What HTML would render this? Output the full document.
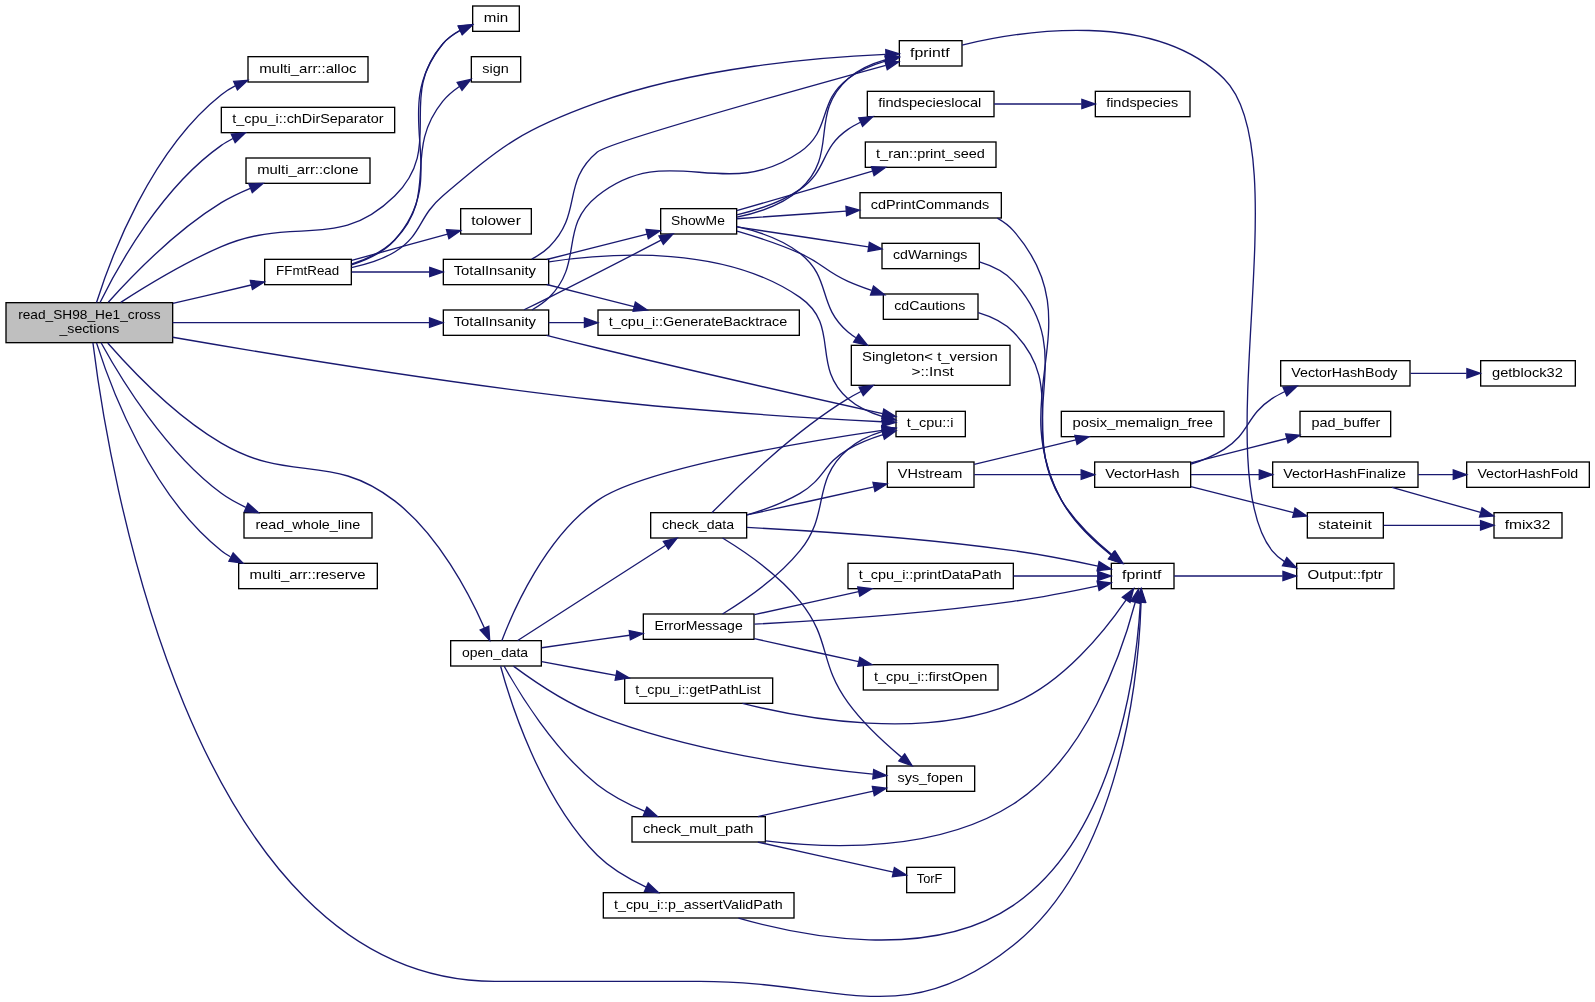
<!DOCTYPE html>
<html><head><meta charset="utf-8"><title>read_SH98_He1_cross_sections call graph</title>
<style>html,body{margin:0;padding:0;background:#fff;overflow:hidden}svg{display:block;will-change:transform}
rect{stroke-width:1}
path{fill:none;stroke:#191970;stroke-width:1}
polygon{fill:#191970;stroke:#191970;stroke-width:1}
text{font-family:"Liberation Sans",sans-serif;font-size:10.0px;fill:#000;text-anchor:middle;text-rendering:auto;}
</style></head><body>
<svg width="1595" height="1002" viewBox="0 0 1196.25 751.5">
<rect x="0" y="0" width="1196.25" height="751.5" fill="#fff"/>
<g transform="translate(4 747.53)">
<rect x="0.5" y="-520.53" width="125" height="30" fill="#bfbfbf" stroke="#000"/>
<text x="63" y="-508.53" textLength="106.78" lengthAdjust="spacingAndGlyphs">read_SH98_He1_cross</text>
<text x="63" y="-497.53" textLength="44.85" lengthAdjust="spacingAndGlyphs">_sections</text>
<rect x="182" y="-705.03" width="90" height="19" fill="#ffffff" stroke="#000"/>
<text x="226.86" y="-693.03" textLength="73" lengthAdjust="spacingAndGlyphs">multi_arr::alloc</text>
<path d="M68.39,-520.67C79.13,-554.58 109.01,-634.59 162,-676.53 165.18,-679.05 168.69,-681.23 172.37,-683.12"/>
<polygon points="171.25,-686.45 181.82,-687.26 174.06,-680.04"/>
<rect x="162" y="-667.03" width="130" height="19" fill="#ffffff" stroke="#000"/>
<text x="226.89" y="-655.03" textLength="113.48" lengthAdjust="spacingAndGlyphs">t_cpu_i::chDirSeparator</text>
<path d="M71.02,-520.69C84.87,-548.73 117.64,-607.38 162,-638.53 164.4,-640.21 168.04,-642.25 170.69,-643.66"/>
<polygon points="169.45,-646.94 180,-647.93 172.37,-640.57"/>
<rect x="180.5" y="-629.03" width="93" height="19" fill="#ffffff" stroke="#000"/>
<text x="226.91" y="-617.03" textLength="76.02" lengthAdjust="spacingAndGlyphs">multi_arr::clone</text>
<path d="M77.21,-520.87C95.02,-540.64 128.34,-574.85 162,-595.53 168.33,-599.41 176.66,-603.33 183.71,-606.28"/>
<polygon points="182.67,-609.63 193.26,-610.01 185.22,-603.11"/>
<rect x="350.5" y="-743.03" width="35" height="19" fill="#ffffff" stroke="#000"/>
<text x="368" y="-731.03" textLength="18.29" lengthAdjust="spacingAndGlyphs">min</text>
<path d="M86.56,-520.78C105.88,-533.24 135.6,-551.19 162,-562.53 217.31,-586.28 248.98,-558.42 292,-600.53 329.97,-637.69 293.3,-674.29 328,-714.53 331.48,-718.56 336.51,-722.04 341.24,-724.64"/>
<polygon points="339.84,-727.85 350.39,-728.86 342.77,-721.49"/>
<rect x="194.5" y="-553.03" width="65" height="19" fill="#ffffff" stroke="#000"/>
<text x="226.74" y="-541.03" textLength="47.31" lengthAdjust="spacingAndGlyphs">FFmtRead</text>
<path d="M125.67,-519.99C144.62,-524.44 167.02,-529.69 184.41,-533.77"/>
<polygon points="183.73,-537.21 194.26,-536.08 185.33,-530.39"/>
<rect x="829.5" y="-325.03" width="47" height="19" fill="#ffffff" stroke="#000"/>
<text x="852.31" y="-313.03" textLength="29.55" lengthAdjust="spacingAndGlyphs">fprintf</text>
<path d="M65.69,-490.37C76.22,-405.23 137.35,-11.53 367,-11.53 367,-11.53 367,-11.53 521,-11.53 626.13,-11.53 673.97,27.23 756,-38.53 837.59,-103.94 850.06,-243.28 851.8,-295.55"/>
<polygon points="848.31,-295.94 852.04,-305.86 855.31,-295.78"/>
<rect x="668" y="-439.03" width="52" height="19" fill="#ffffff" stroke="#000"/>
<text x="693.62" y="-427.03" textLength="34.93" lengthAdjust="spacingAndGlyphs">t_cpu::i</text>
<path d="M125.5,-494.61C200.56,-481.64 331.42,-460.17 444,-447.53 519.88,-439.01 609.25,-433.69 657.6,-431.2"/>
<polygon points="658.03,-434.68 667.85,-430.69 657.68,-427.69"/>
<rect x="328.5" y="-515.03" width="79" height="19" fill="#ffffff" stroke="#000"/>
<text x="367.15" y="-503.03" textLength="61.73" lengthAdjust="spacingAndGlyphs">TotalInsanity</text>
<path d="M125.55,-505.53C182.2,-505.53 265.84,-505.53 318.12,-505.53"/>
<polygon points="318.16,-509.03 328.16,-505.53 318.16,-502.03"/>
<rect x="179" y="-363.03" width="96" height="19" fill="#ffffff" stroke="#000"/>
<text x="226.9" y="-351.03" textLength="78.55" lengthAdjust="spacingAndGlyphs">read_whole_line</text>
<path d="M71.81,-490.44C86.5,-463.63 119.96,-408.7 162,-377.53 167.19,-373.68 174.26,-369.88 180.3,-367.07"/>
<polygon points="181.99,-370.16 189.85,-363.06 179.27,-363.71"/>
<rect x="175" y="-325.03" width="104" height="19" fill="#ffffff" stroke="#000"/>
<text x="226.66" y="-313.03" textLength="86.9" lengthAdjust="spacingAndGlyphs">multi_arr::reserve</text>
<path d="M68.39,-490.39C79.13,-456.47 109.01,-376.47 162,-334.53 163.85,-333.07 166.77,-331.22 168.81,-329.97"/>
<polygon points="170.88,-332.84 178.17,-325.15 167.68,-326.62"/>
<rect x="334" y="-267.03" width="68" height="19" fill="#ffffff" stroke="#000"/>
<text x="367.32" y="-255.03" textLength="49.56" lengthAdjust="spacingAndGlyphs">open_data</text>
<path d="M76.78,-490.32C94.4,-470.25 127.74,-435.43 162,-415.2 214.47,-384.26 243.71,-409 292,-371.86 324.88,-346.53 348.05,-301.95 359.3,-276.51"/>
<polygon points="362.57,-277.77 363.28,-267.2 356.13,-275.02"/>
<path d="M259.72,-548.94C270.9,-552.47 284.04,-558.57 292,-567.53 336.66,-617.83 285.77,-662.18 328,-714.53 331.34,-718.67 336.31,-722.21 341.03,-724.82"/>
<polygon points="339.64,-728.03 350.19,-729.03 342.56,-721.67"/>
<rect x="670.5" y="-717.03" width="47" height="19" fill="#ffffff" stroke="#000"/>
<text x="693.39" y="-705.03" textLength="29.71" lengthAdjust="spacingAndGlyphs">fprintf</text>
<path d="M259.61,-546.86C270.03,-549.06 282.74,-552.9 292,-558.53 313.01,-571.3 309.24,-584.64 328,-600.53 373.96,-639.44 387.34,-650.15 444,-670.53 517.98,-697.13 611.45,-704.64 660.18,-706.74"/>
<polygon points="660.33,-710.24 670.45,-707.13 660.59,-703.25"/>
<rect x="349.5" y="-705.03" width="37" height="19" fill="#ffffff" stroke="#000"/>
<text x="367.67" y="-693.03" textLength="19.88" lengthAdjust="spacingAndGlyphs">sign</text>
<path d="M259.6,-549.45C270.64,-553.02 283.72,-559.03 292,-567.53 326.14,-602.55 297.39,-633.38 328,-671.53 331.34,-675.68 336.1,-679.61 340.57,-682.7"/>
<polygon points="338.89,-685.77 349.25,-687.97 342.52,-679.79"/>
<rect x="328.5" y="-553.03" width="79" height="19" fill="#ffffff" stroke="#000"/>
<text x="367.15" y="-541.03" textLength="61.73" lengthAdjust="spacingAndGlyphs">TotalInsanity</text>
<path d="M259.79,-543.53C276.67,-543.53 299.49,-543.53 318.18,-543.53"/>
<polygon points="318.31,-547.03 328.31,-543.53 318.31,-540.03"/>
<rect x="341.5" y="-591.03" width="53" height="19" fill="#ffffff" stroke="#000"/>
<text x="368.01" y="-579.03" textLength="37.19" lengthAdjust="spacingAndGlyphs">tolower</text>
<path d="M259.79,-552.22C280.87,-557.98 310.11,-565.98 331.66,-571.87"/>
<polygon points="330.86,-575.28 341.43,-574.54 332.7,-568.53"/>
<rect x="968.5" y="-325.03" width="73" height="19" fill="#ffffff" stroke="#000"/>
<text x="1004.92" y="-313.03" textLength="56.4" lengthAdjust="spacingAndGlyphs">Output::fptr</text>
<path d="M717.53,-713.75C762.19,-724.49 861.26,-740.49 914,-688.53 970.32,-633.03 901.09,-396.66 950,-334.53 952.49,-331.37 956.04,-328.47 959.41,-326.27"/>
<polygon points="961.05,-329.37 968.33,-321.66 957.84,-323.15"/>
<path d="M394.81,-553.13C399.25,-555.59 404.46,-559.04 408,-562.53 433.22,-587.35 416.83,-610.87 444,-633.53 452.49,-640.61 594.46,-680.37 660.29,-698.55"/>
<polygon points="659.6,-701.99 670.17,-701.27 661.46,-695.24"/>
<rect x="491.5" y="-591.03" width="57" height="19" fill="#ffffff" stroke="#000"/>
<text x="519.42" y="-579.03" textLength="40.44" lengthAdjust="spacingAndGlyphs">ShowMe</text>
<path d="M406.05,-552.91C428.48,-558.6 459.01,-566.33 481.3,-571.98"/>
<polygon points="480.55,-575.4 491.1,-574.46 482.27,-568.61"/>
<rect x="444.5" y="-515.03" width="151" height="19" fill="#ffffff" stroke="#000"/>
<text x="519.47" y="-503.03" textLength="133.97" lengthAdjust="spacingAndGlyphs">t_cpu_i::GenerateBacktrace</text>
<path d="M406.05,-534.14C424.84,-529.38 451.51,-522.62 471.5,-517.56"/>
<polygon points="472.53,-520.91 481.36,-515.06 470.81,-514.12"/>
<path d="M407.72,-551.18C456.34,-558.46 540.09,-563.27 596,-524.53 626.72,-503.24 603.78,-473.04 632,-448.53 639.32,-442.17 648.75,-437.94 658,-435.12"/>
<polygon points="659.04,-438.47 667.85,-432.59 657.29,-431.69"/>
<path d="M548.63,-584.69C564.07,-587.78 583.13,-593.88 596,-605.53 625.81,-632.51 602.08,-661.66 632,-688.53 639.72,-695.46 650.44,-699.98 660.3,-702.78"/>
<polygon points="659.79,-706.25 670.33,-705.15 661.4,-699.44"/>
<rect x="646.5" y="-679.03" width="95" height="19" fill="#ffffff" stroke="#000"/>
<text x="693.28" y="-667.03" textLength="77.34" lengthAdjust="spacingAndGlyphs">findspecieslocal</text>
<path d="M548.62,-586.3C563.5,-589.86 582.04,-595.92 596,-605.53 617.1,-620.05 610.85,-636.09 632,-650.53 634.57,-652.28 638.44,-654.39 641.28,-655.84"/>
<polygon points="640.07,-659.13 650.63,-660.02 642.93,-652.74"/>
<rect x="645" y="-641.03" width="98" height="19" fill="#ffffff" stroke="#000"/>
<text x="693.86" y="-629.03" textLength="81.6" lengthAdjust="spacingAndGlyphs">t_ran::print_seed</text>
<path d="M548.52,-589.52C575.49,-597.36 618.92,-609.99 650.35,-619.13"/>
<polygon points="649.61,-622.56 660.19,-621.99 651.56,-615.84"/>
<rect x="657.5" y="-565.03" width="73" height="19" fill="#ffffff" stroke="#000"/>
<text x="693.66" y="-553.03" textLength="55.75" lengthAdjust="spacingAndGlyphs">cdWarnings</text>
<path d="M548.52,-577.37C574.94,-573.38 616.04,-567.16 647.22,-562.44"/>
<polygon points="648.05,-565.86 657.42,-560.9 647.01,-558.94"/>
<rect x="658.5" y="-527.03" width="71" height="19" fill="#ffffff" stroke="#000"/>
<text x="693.31" y="-515.03" textLength="53.29" lengthAdjust="spacingAndGlyphs">cdCautions</text>
<path d="M548.82,-574.2C563.1,-570.04 581.01,-564.2 596,-557.53 612.92,-549.99 615.05,-544 632,-536.53 637.14,-534.26 644.14,-531.65 649.64,-529.72"/>
<polygon points="651.11,-532.92 659.49,-526.45 648.9,-526.28"/>
<rect x="641" y="-603.03" width="106" height="19" fill="#ffffff" stroke="#000"/>
<text x="693.54" y="-591.03" textLength="88.95" lengthAdjust="spacingAndGlyphs">cdPrintCommands</text>
<path d="M548.52,-583.45C570.56,-584.99 602.62,-587.22 630.57,-589.17"/>
<polygon points="630.46,-592.67 640.68,-589.88 630.95,-585.69"/>
<rect x="634.5" y="-488.53" width="119" height="30" fill="#ffffff" stroke="#000"/>
<text x="693.41" y="-476.53" textLength="101.78" lengthAdjust="spacingAndGlyphs">Singleton&lt; t_version</text>
<text x="695.53" y="-465.53" textLength="31.8" lengthAdjust="spacingAndGlyphs">&gt;::Inst</text>
<path d="M548.76,-577.51C563.87,-574.17 582.57,-568.09 596,-557.53 620.15,-538.54 608.62,-518.46 632,-498.53 633.35,-497.38 636.33,-495.28 637.79,-494.22"/>
<polygon points="639.98,-496.98 646.56,-488.67 636.24,-491.06"/>
<rect x="817.5" y="-679.03" width="71" height="19" fill="#ffffff" stroke="#000"/>
<text x="852.64" y="-667.03" textLength="54.01" lengthAdjust="spacingAndGlyphs">findspecies</text>
<path d="M741.61,-669.53C762.06,-669.53 786.93,-669.53 807.18,-669.53"/>
<polygon points="807.41,-673.03 817.41,-669.53 807.41,-666.03"/>
<path d="M730.62,-551.07C739.84,-548.26 749.48,-543.64 756,-536.53 806.45,-481.54 755.34,-437.53 792,-372.53 801.09,-356.41 816.87,-341.58 829.66,-331.33"/>
<polygon points="831.85,-334.06 837.64,-325.19 827.58,-328.51"/>
<path d="M876.61,-315.53C897.94,-315.53 931.25,-315.53 957.93,-315.53"/>
<polygon points="958.22,-319.03 968.22,-315.53 958.22,-312.03"/>
<path d="M729.7,-512.99C739.13,-510.19 749.1,-505.59 756,-498.53 796.69,-456.86 761.82,-422.34 792,-372.53 801.65,-356.6 817.55,-341.69 830.26,-331.34"/>
<polygon points="832.45,-334.08 838.16,-325.16 828.13,-328.56"/>
<path d="M743.98,-583.89C748.15,-581.52 752.85,-578.11 756,-574.53 816.31,-506.13 748.79,-452.83 792,-372.53 800.77,-356.23 816.56,-341.41 829.43,-331.19"/>
<polygon points="831.62,-333.93 837.48,-325.1 827.39,-328.35"/>
<path d="M394.88,-515.05C399.32,-517.52 404.5,-520.99 408,-524.53 434.28,-551.1 414.73,-577.29 444,-600.53 498.14,-643.52 539.04,-594.35 596,-633.53 620.07,-650.08 608.68,-670.93 632,-688.53 640.15,-694.68 650.82,-698.99 660.51,-701.83"/>
<polygon points="659.77,-705.25 670.33,-704.32 661.5,-698.47"/>
<path d="M389.06,-515.2C394.88,-518.03 402.21,-521.63 408,-524.53 436.31,-538.69 469.43,-555.76 491.81,-567.37"/>
<polygon points="490.28,-570.52 500.77,-572.02 493.51,-564.3"/>
<path d="M407.52,-505.53C415.53,-505.53 425.26,-505.53 434.18,-505.53"/>
<polygon points="434.32,-509.03 444.32,-505.53 434.32,-502.03"/>
<path d="M405.91,-496C417.52,-493.05 432.25,-489.36 444,-486.53 520.11,-468.18 609.67,-448.03 657.93,-437.29"/>
<polygon points="658.86,-440.67 667.86,-435.08 657.34,-433.83"/>
<path d="M372.42,-267.13C381.01,-289.79 405.08,-344.83 444,-372.03 478.36,-396.06 597.32,-415.87 657.52,-424.73"/>
<polygon points="657.3,-428.23 667.7,-426.17 658.29,-421.3"/>
<rect x="464.5" y="-239.03" width="111" height="19" fill="#ffffff" stroke="#000"/>
<text x="519.56" y="-227.03" textLength="94.11" lengthAdjust="spacingAndGlyphs">t_cpu_i::getPathList</text>
<path d="M402.29,-251.31C417.87,-248.4 439.65,-244.34 457.86,-240.94"/>
<polygon points="458.67,-244.35 467.85,-239.07 457.38,-237.47"/>
<rect x="661" y="-173.03" width="66" height="19" fill="#ffffff" stroke="#000"/>
<text x="693.72" y="-161.03" textLength="49.13" lengthAdjust="spacingAndGlyphs">sys_fopen</text>
<path d="M381.08,-247.95C395.4,-237.33 420.41,-220.15 444,-211.03 513.41,-183.87 600.03,-171.85 650.66,-166.91"/>
<polygon points="651.28,-170.36 660.9,-165.92 650.61,-163.39"/>
<rect x="470" y="-135.03" width="100" height="19" fill="#ffffff" stroke="#000"/>
<text x="519.66" y="-123.03" textLength="82.93" lengthAdjust="spacingAndGlyphs">check_mult_path</text>
<path d="M374.04,-248.01C384.82,-228.7 411.32,-184.97 444,-159.03 454.22,-151.03 467.92,-144.02 479.77,-138.98"/>
<polygon points="481.17,-142.19 489.07,-135.12 478.49,-135.72"/>
<rect x="448.5" y="-78.03" width="143" height="19" fill="#ffffff" stroke="#000"/>
<text x="519.77" y="-66.03" textLength="126.4" lengthAdjust="spacingAndGlyphs">t_cpu_i::p_assertValidPath</text>
<path d="M371.45,-247.83C378.64,-221.45 401.36,-148.95 444,-106.03 453.9,-96.19 468.11,-87.99 480.57,-82.25"/>
<polygon points="482.2,-85.36 489.92,-78.11 479.36,-78.96"/>
<rect x="478.5" y="-287.03" width="83" height="19" fill="#ffffff" stroke="#000"/>
<text x="519.99" y="-275.03" textLength="66.14" lengthAdjust="spacingAndGlyphs">ErrorMessage</text>
<path d="M402.29,-261.74C421.51,-264.51 446.6,-268.02 468.24,-271.1"/>
<polygon points="467.91,-274.58 478.27,-272.37 468.79,-267.64"/>
<rect x="484" y="-363.03" width="72" height="19" fill="#ffffff" stroke="#000"/>
<text x="519.52" y="-351.03" textLength="54.16" lengthAdjust="spacingAndGlyphs">check_data</text>
<path d="M384.28,-267.19C410.56,-284.17 464.48,-318.67 495.38,-338.57"/>
<polygon points="493.53,-341.54 503.85,-343.93 497.28,-335.63"/>
<path d="M552.85,-220.01C599.93,-208.1 688.96,-192.3 756,-220.03 793.55,-235.64 824.55,-274.31 840.47,-297.47"/>
<polygon points="837.72,-299.65 846.19,-306.01 843.54,-295.76"/>
<path d="M570.2,-116.86C620.9,-110.64 700.17,-108.75 756,-144.53 810.81,-179.66 837.43,-258.21 847.33,-295.47"/>
<polygon points="844.05,-296.78 849.88,-305.63 850.84,-295.08"/>
<path d="M564.38,-135.11C590.56,-140.9 625.46,-148.61 651.01,-154.25"/>
<polygon points="650.25,-157.67 660.77,-156.41 651.76,-150.83"/>
<rect x="676" y="-97.03" width="36" height="19" fill="#ffffff" stroke="#000"/>
<text x="693.15" y="-85.03" textLength="19.19" lengthAdjust="spacingAndGlyphs">TorF</text>
<path d="M564.38,-115.94C595.66,-109.03 639.41,-99.37 666.02,-93.49"/>
<polygon points="666.81,-96.9 675.82,-91.32 665.3,-90.06"/>
<path d="M549.86,-58.97C598,-45.18 694.04,-26.14 756,-68.53 833.16,-121.32 848.33,-246.43 851.3,-295.58"/>
<polygon points="847.82,-296.06 851.8,-305.87 854.81,-295.71"/>
<path d="M561.83,-279.4C608.89,-281.9 688.5,-287.15 756,-296.53 777.06,-299.45 800.97,-304.17 819.4,-308.11"/>
<polygon points="818.83,-311.57 829.35,-310.28 820.32,-304.73"/>
<path d="M537.9,-287.06C554.46,-297.17 579.82,-314.59 596,-334.53 619.55,-363.55 603.78,-386.02 632,-410.53 639.32,-416.88 648.75,-421.12 658,-423.93"/>
<polygon points="657.29,-427.36 667.85,-426.46 659.04,-420.58"/>
<rect x="643.5" y="-249.03" width="101" height="19" fill="#ffffff" stroke="#000"/>
<text x="693.97" y="-237.03" textLength="84.89" lengthAdjust="spacingAndGlyphs">t_cpu_i::firstOpen</text>
<path d="M561.7,-268.54C584.32,-263.54 615.45,-256.66 639.98,-251.24"/>
<polygon points="640.86,-254.63 649.87,-249.06 639.35,-247.8"/>
<rect x="632" y="-325.03" width="124" height="19" fill="#ffffff" stroke="#000"/>
<text x="693.64" y="-313.03" textLength="107" lengthAdjust="spacingAndGlyphs">t_cpu_i::printDataPath</text>
<path d="M561.7,-286.52C584.32,-291.52 615.44,-298.39 639.97,-303.81"/>
<polygon points="639.34,-307.26 649.86,-306 640.85,-300.42"/>
<path d="M756.15,-315.53C777.45,-315.53 801.05,-315.53 819.24,-315.53"/>
<polygon points="819.32,-319.03 829.32,-315.53 819.32,-312.03"/>
<path d="M556.17,-351.94C602.24,-349.58 685.46,-344.33 756,-334.53 777.06,-331.6 800.97,-326.89 819.4,-322.94"/>
<polygon points="820.32,-326.32 829.35,-320.78 818.83,-319.48"/>
<path d="M530.06,-363.11C548.29,-381.9 590.44,-423.14 632,-448.53 634.47,-450.04 639.08,-452.49 641.72,-453.89"/>
<polygon points="640.36,-457.12 650.88,-458.41 643.46,-450.85"/>
<path d="M556.3,-361.43C569.3,-365.19 583.82,-370.46 596,-377.53 614.77,-388.42 613.18,-399.71 632,-410.53 640.03,-415.15 649.32,-418.78 658.19,-421.57"/>
<polygon points="657.35,-424.97 667.93,-424.37 659.29,-418.24"/>
<path d="M537.9,-343.99C554.46,-333.89 579.82,-316.47 596,-296.53 619.55,-267.5 609.96,-250.71 632,-220.53 643.22,-205.17 659.59,-190.07 672.27,-179.5"/>
<polygon points="674.53,-182.18 680.09,-173.16 670.12,-176.74"/>
<rect x="661.5" y="-401.03" width="65" height="19" fill="#ffffff" stroke="#000"/>
<text x="693.55" y="-389.03" textLength="48.34" lengthAdjust="spacingAndGlyphs">VHstream</text>
<path d="M556.22,-361.31C583.65,-367.37 622.32,-375.91 651.37,-382.33"/>
<polygon points="650.71,-385.77 661.23,-384.51 652.22,-378.93"/>
<rect x="817" y="-401.03" width="72" height="19" fill="#ffffff" stroke="#000"/>
<text x="852.77" y="-389.03" textLength="55.8" lengthAdjust="spacingAndGlyphs">VectorHash</text>
<path d="M726.65,-391.53C749.59,-391.53 781.27,-391.53 806.73,-391.53"/>
<polygon points="806.89,-395.03 816.89,-391.53 806.89,-388.03"/>
<rect x="792" y="-439.03" width="122" height="19" fill="#ffffff" stroke="#000"/>
<text x="853.05" y="-427.03" textLength="105.23" lengthAdjust="spacingAndGlyphs">posix_memalign_free</text>
<path d="M726.65,-399.19C747.86,-404.32 778.66,-411.78 802.92,-417.65"/>
<polygon points="802.15,-421.06 812.69,-420.02 803.8,-414.26"/>
<rect x="976.5" y="-363.03" width="57" height="19" fill="#ffffff" stroke="#000"/>
<text x="1004.73" y="-351.03" textLength="40.25" lengthAdjust="spacingAndGlyphs">stateinit</text>
<path d="M889.17,-382.62C912.1,-376.81 942.53,-369.1 966.08,-363.13"/>
<polygon points="967.24,-366.45 976.08,-360.6 965.52,-359.66"/>
<rect x="956.5" y="-477.03" width="97" height="19" fill="#ffffff" stroke="#000"/>
<text x="1004.28" y="-465.03" textLength="79.66" lengthAdjust="spacingAndGlyphs">VectorHashBody</text>
<path d="M889.27,-399.44C897.74,-402.2 906.5,-405.83 914,-410.53 933.72,-422.88 930.48,-435.87 950,-448.53 952.71,-450.29 956.73,-452.4 959.72,-453.89"/>
<polygon points="958.3,-457.09 968.86,-457.95 961.14,-450.69"/>
<rect x="971" y="-439.03" width="68" height="19" fill="#ffffff" stroke="#000"/>
<text x="1005.42" y="-427.03" textLength="51.56" lengthAdjust="spacingAndGlyphs">pad_buffer</text>
<path d="M889.17,-400.44C910.67,-405.88 938.31,-412.89 961.09,-418.66"/>
<polygon points="960.3,-422.07 970.85,-421.13 962.02,-415.28"/>
<rect x="950.5" y="-401.03" width="109" height="19" fill="#ffffff" stroke="#000"/>
<text x="1004.5" y="-389.03" textLength="92.06" lengthAdjust="spacingAndGlyphs">VectorHashFinalize</text>
<path d="M889.17,-391.53C904.3,-391.53 922.97,-391.53 940.35,-391.53"/>
<polygon points="940.46,-395.03 950.46,-391.53 940.46,-388.03"/>
<rect x="1116.5" y="-363.03" width="51" height="19" fill="#ffffff" stroke="#000"/>
<text x="1141.66" y="-351.03" textLength="34.33" lengthAdjust="spacingAndGlyphs">fmix32</text>
<path d="M1033.8,-353.53C1054.63,-353.53 1084.07,-353.53 1106.35,-353.53"/>
<polygon points="1106.42,-357.03 1116.42,-353.53 1106.42,-350.03"/>
<rect x="1106.5" y="-477.03" width="71" height="19" fill="#ffffff" stroke="#000"/>
<text x="1141.57" y="-465.03" textLength="53.15" lengthAdjust="spacingAndGlyphs">getblock32</text>
<path d="M1053.86,-467.53C1067.23,-467.53 1082.69,-467.53 1095.9,-467.53"/>
<polygon points="1096.18,-471.03 1106.18,-467.53 1096.18,-464.03"/>
<path d="M1040.04,-381.94C1059.87,-376.36 1086.68,-368.82 1106.39,-363.27"/>
<polygon points="1107.53,-366.59 1116.21,-360.51 1105.63,-359.85"/>
<rect x="1096" y="-401.03" width="92" height="19" fill="#ffffff" stroke="#000"/>
<text x="1141.88" y="-389.03" textLength="75.62" lengthAdjust="spacingAndGlyphs">VectorHashFold</text>
<path d="M1059.63,-391.53C1068.08,-391.53 1077.32,-391.53 1085.79,-391.53"/>
<polygon points="1085.96,-395.03 1095.96,-391.53 1085.96,-388.03"/>
</g></svg></body></html>
